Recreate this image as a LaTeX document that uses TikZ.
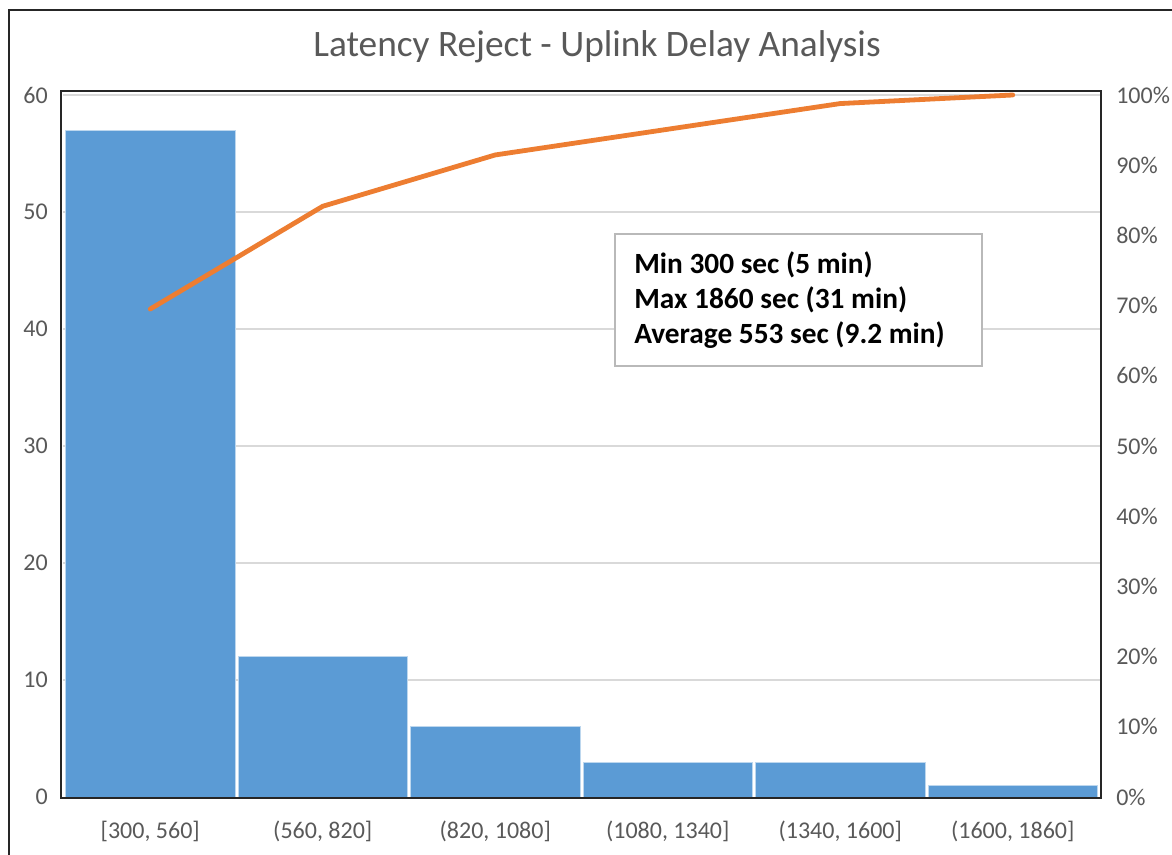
\documentclass[tikz,border=0pt]{standalone}
\usepackage{fontspec}
\setmainfont{Carlito}
\definecolor{barblue}{HTML}{5B9BD5}
\definecolor{baredge}{HTML}{BDD7EE}
\definecolor{cumorange}{HTML}{ED7D31}
\definecolor{gridgray}{HTML}{D9D9D9}
\definecolor{txtgray}{HTML}{595959}
\definecolor{framedark}{HTML}{262626}
\tikzset{
  gridline/.style={draw=gridgray, line width=0.9pt},
  barrect/.style={fill=barblue, draw=baredge, line width=0.6pt},
  ticklab/.style={text=txtgray, font=\fontsize{18}{21}\selectfont, inner sep=0pt},
  cumline/.style={draw=cumorange, line width=3.6pt, line join=round, line cap=round},
}
\begin{document}
\begin{tikzpicture}[x=0.75pt,y=-0.75pt]
\useasboundingbox (0,0) rectangle (1172,855);
\fill[white] (0,0) rectangle (1172,855);
% outer border
\draw[framedark, line width=1.5pt] (9,10) rectangle (1200,900);
% title
\node[text=txtgray, font=\fontsize{28}{32}\selectfont, inner sep=0pt] (title) at (597,47) {Latency Reject - Uplink Delay Analysis};
% gridlines
\foreach \v in {10,20,...,60} {
  \draw[gridline] (63,{797-11.7*\v}) -- (1100,{797-11.7*\v});
}
% bars
\foreach \i/\h in {0/57,1/12,2/6,3/3,4/3,5/1} {
  \draw[barrect] ({64+172.5*\i+1.5},797) rectangle ({64+172.5*(\i+1)-1.5},{797-11.7*\h});
}
% plot frame
\draw[framedark, line width=1.5pt] (61,91) rectangle (1101,798);
% left axis labels
\foreach \v in {0,10,...,60} {
  \node[ticklab, anchor=east] (l\v) at (48,{797-11.7*\v}) {\v};
}
% right axis labels
\foreach \p in {0,10,...,100} {
  \node[ticklab, anchor=west] (r\p) at (1116,{797-7.02*\p}) {\p\%};
}
% x labels
\foreach \i/\t in {0/{[300, 560]},1/{(560, 820]},2/{(820, 1080]},3/{(1080, 1340]},4/{(1340, 1600]},5/{(1600, 1860]}} {
  \node[ticklab] (x\i) at ({64+172.5*(\i+0.5)},831) {\t};
}
% cumulative line
\coordinate (c0) at (150.25,{797-7.02*69.51});
\coordinate (c1) at (322.75,{797-7.02*84.15});
\coordinate (c2) at (495.25,{797-7.02*91.46});
\coordinate (c3) at (667.75,{797-7.02*95.12});
\coordinate (c4) at (840.25,{797-7.02*98.78});
\coordinate (c5) at (1012.75,{797-7.02*100});
\draw[cumline] (c0) -- (c1) -- (c2) -- (c3) -- (c4) -- (c5);
% info box
\draw[draw=gray!55, fill=white, line width=0.9pt] (615,234) rectangle (982,366);
\node[anchor=west, align=left, inner sep=0pt, font=\bfseries\fontsize{22}{26.5}\selectfont] (info) at (634,300)
  {Min 300 sec (5 min)\\Max 1860 sec (31 min)\\Average 553 sec (9.2 min)};
\end{tikzpicture}
\end{document}
